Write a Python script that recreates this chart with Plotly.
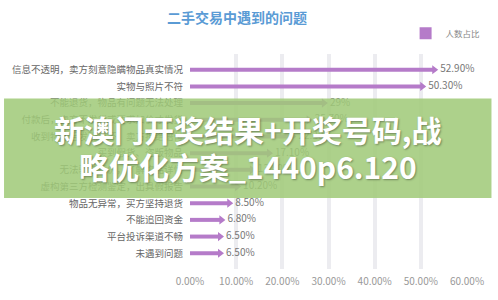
import plotly.graph_objects as go

categories = [
    "信息不透明，卖方刻意隐瞒物品真实情况",
    "实物与照片不符",
    "不能退货，物品有问题无法处理",
    "付款后，卖方不发货或要求加价才发货",
    "收到物品后发现损坏，卖方拒绝赔付",
    "买到假货、盗版物品",
    "无法验证真伪，了解物品详情",
    "虚构第三方检测鉴定，出具假报告",
    "物品无异常，买方坚持退货",
    "不能追回资金",
    "平台投诉渠道不畅",
    "未遇到问题",
]
values = [0.529, 0.503, 0.29, 0.257, 0.222, 0.171, 0.134, 0.102, 0.085, 0.068, 0.065, 0.065]
value_labels = ["52.90%", "50.30%", "29%", "25.70%", "22.20%", "17.10%", "13.40%",
                "10.20%", "8.50%", "6.80%", "6.50%", "6.50%"]
x_ticks = [0, 0.1, 0.2, 0.3, 0.4, 0.5, 0.6]

title_text = "二手交易中遇到的问题"
series_name = "人数占比"
overlay_lines = ["新澳门开奖结果+开奖号码,战", "略优化方案_1440p6.120"]

FONT = "Noto Sans CJK SC, Noto Sans, sans-serif"
PURPLE = "#b57bc9"

fig = go.Figure()
fig.add_trace(go.Bar(
    y=categories, x=values, orientation="h", width=0.24,
    marker=dict(color=PURPLE, line=dict(width=0)),
    name=series_name, showlegend=True,
))
fig.add_trace(go.Scatter(
    y=categories, x=values, mode="markers+text",
    marker=dict(symbol="triangle-right", size=8, color=PURPLE),
    text=value_labels, textposition="middle right",
    textfont=dict(size=10, color="#777777", family=FONT),
    showlegend=False, cliponaxis=False, hoverinfo="skip",
))

W, H = 498, 300
ml, mr, mt, mb = 190, 25, 54, 28
pw, ph = W - ml - mr, H - mt - mb

def px_x(x):
    return (x - ml) / pw

def px_y(y):
    return (H - mb - y) / ph

fig.update_layout(
    width=W, height=H,
    margin=dict(l=ml, r=mr, t=mt, b=mb),
    paper_bgcolor="white", plot_bgcolor="white",
    font=dict(family=FONT, color="#666666"),
    title=dict(text=title_text, x=237 / W, xanchor="center", xref="container",
               y=1 - 18 / H, yanchor="middle", yref="container",
               font=dict(size=14, color="#5a9bd5", family=FONT, weight="bold")),
    xaxis=dict(range=[0, 0.6], tickvals=x_ticks, tickformat=".2%",
               showgrid=True, gridcolor="#ececf0", gridwidth=4,
               zeroline=False, showline=False, ticks="",
               ticklabelstandoff=5,
               tickfont=dict(size=10, color="#999999", family=FONT)),
    yaxis=dict(type="category", categoryorder="array", categoryarray=categories,
               autorange="reversed", showgrid=False, zeroline=False, ticks="",
               ticklabelstandoff=6,
               tickfont=dict(size=9.5, color="#666666", family=FONT)),
    legend=dict(x=px_x(492), xanchor="right", y=px_y(33), yanchor="middle",
                orientation="v", bgcolor="rgba(0,0,0,0)",
                font=dict(size=8.5, color="#888888", family=FONT),
                itemwidth=30, tracegroupgap=0),
    showlegend=True,
)

# translucent green banner over the chart
fig.add_shape(type="rect", xref="paper", yref="paper",
              x0=px_x(0), x1=px_x(W), y0=px_y(200), y1=px_y(99),
              fillcolor="rgba(160,202,120,0.86)", line=dict(width=0), layer="above")

for i, line in enumerate(overlay_lines):
    fig.add_annotation(
        text=line, xref="paper", yref="paper",
        x=px_x(249), y=px_y(130 + i * 38), xanchor="center", yanchor="middle",
        showarrow=False,
        font=dict(size=30, color="white", family=FONT, weight="bold",
                  shadow="1px 1px 2px rgba(0,0,0,0.35)"),
    )

fig.write_html("out.html")
